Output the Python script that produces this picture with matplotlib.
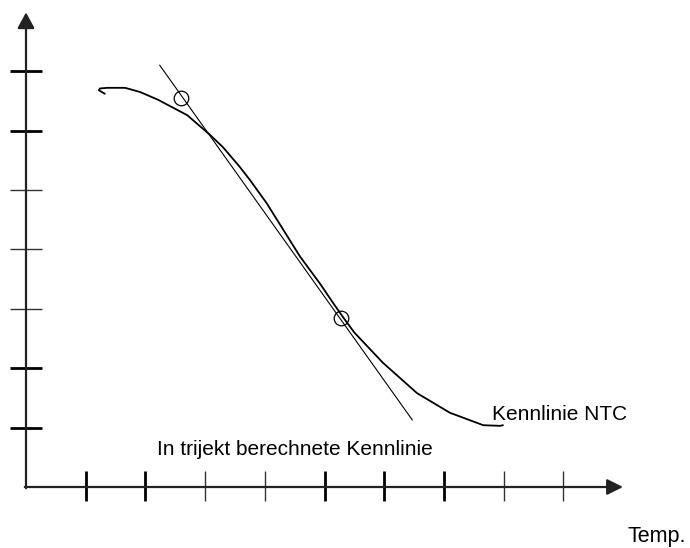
import matplotlib
matplotlib.use("Agg")
import matplotlib.pyplot as plt

# NTC characteristic (tick units)
ntc_x = [1.32, 1.22, 1.24, 1.37, 1.66, 1.91, 2.21, 2.70, 3.08, 3.30, 3.58,
         3.75, 4.03, 4.31, 4.59, 4.92, 5.15, 5.31, 5.50, 5.98, 6.55, 7.10,
         7.66, 7.94, 7.99]
ntc_y = [6.62, 6.68, 6.71, 6.72, 6.72, 6.65, 6.52, 6.26, 5.93, 5.72, 5.39,
         5.17, 4.78, 4.33, 3.88, 3.43, 3.09, 2.86, 2.60, 2.09, 1.58, 1.25,
         1.04, 1.03, 1.04]

# straight line computed from two points
line_x = [2.24, 6.47]
line_y = [7.10, 1.13]
pts_x = [2.60, 5.28]
pts_y = [6.55, 2.85]

xticks = [1, 2, 3, 4, 5, 6, 7, 8, 9]
xtick_bold = [True, True, False, False, True, True, True, False, False]
yticks = [1, 2, 3, 4, 5, 6, 7]
ytick_bold = [True, True, False, False, False, True, True]

plt.rcParams['font.family'] = ['Liberation Sans', 'DejaVu Sans']

fig = plt.figure(figsize=(6.9, 5.48), dpi=100)
ax = fig.add_axes([0, 0, 1, 1])
ax.set_xlim(-26 / 59.7, (690 - 26) / 59.7)
ax.set_ylim(-61 / 59.4, 487 / 59.4)
ax.axis('off')

# axes with arrows
ax.annotate('', xy=(0, 7.99), xytext=(0, -0.02),
            arrowprops=dict(arrowstyle='-|>,head_length=0.48,head_width=0.26',
                            lw=1.6, color='#222222', mutation_scale=20,
                            shrinkA=0, shrinkB=0))
ax.annotate('', xy=(10.0, 0), xytext=(-0.02, 0),
            arrowprops=dict(arrowstyle='-|>,head_length=0.48,head_width=0.24',
                            lw=1.6, color='#222222', mutation_scale=20,
                            shrinkA=0, shrinkB=0))

for t, b in zip(xticks, xtick_bold):
    ax.plot([t, t], [-0.23, 0.27], color='black' if b else '#333333',
            lw=2.0 if b else 1.0, solid_capstyle='butt')
for t, b in zip(yticks, ytick_bold):
    ax.plot([-0.27, 0.26], [t, t], color='black' if b else '#333333',
            lw=2.0 if b else 1.0, solid_capstyle='butt')

ax.plot(ntc_x, ntc_y, color='black', lw=1.3, solid_joinstyle='round',
        solid_capstyle='round')
ax.plot(line_x, line_y, color='black', lw=0.8)
ax.plot(pts_x, pts_y, 'o', ms=10.5, mfc='none', mec='black', mew=0.9)

ax.text(7.81, 1.13, 'Kennlinie NTC', fontsize=15, va='baseline', ha='left')
ax.text(2.19, 0.54, 'In trijekt berechnete Kennlinie', fontsize=15,
        va='baseline', ha='left')
ax.text(10.08, -0.92, 'Temp.', fontsize=15.5, va='baseline', ha='left',
        clip_on=False)

fig.savefig('out.png', dpi=100)
